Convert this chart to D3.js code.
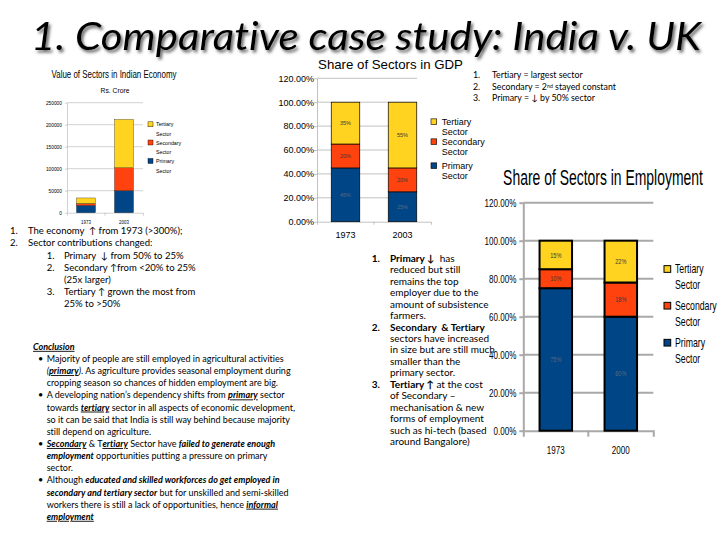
<!DOCTYPE html>
<html>
<head>
<meta charset="utf-8">
<script src="https://cdn.jsdelivr.net/npm/d3@7"></script>
<style>
  body { margin: 0; background: #fff; }
  svg { display: block; }
  text { font-family: "Liberation Sans", Arial, sans-serif; white-space: pre; font-variant-ligatures: none; }
  text.note, text.headline { font-family: Lato, "Open Sans", sans-serif; }
</style>
</head>
<body>
<svg id="slide" width="728" height="546"></svg>
<script>
const sectors = ['Primary', 'Secondary', 'Tertiary'];
const sector_colors = ['#004586', '#ff420e', '#ffd320'];

// value of sectors, Rs. crore
const value_years = ['1973', '2003'];
const value_primary = [16500, 50000];
const value_secondary = [4500, 52000];
const value_tertiary = [12500, 110000];
const value_ticks = [0, 50000, 100000, 150000, 200000, 250000];

// share of GDP, %
const gdp_years = ['1973', '2003'];
const gdp_primary = [45, 25];
const gdp_secondary = [20, 20];
const gdp_tertiary = [35, 55];

// share of employment, %
const emp_years = ['1973', '2000'];
const emp_primary = [75, 60];
const emp_secondary = [10, 18];
const emp_tertiary = [15, 22];

const pct_ticks = [0, 20, 40, 60, 80, 100, 120];

const intro_notes = [
  [0, '1.', 'The economy  ↑ from 1973 (>300%);'],
  [0, '2.', 'Sector contributions changed:'],
  [1, '1.', 'Primary  ↓ from 50% to 25%'],
  [1, '2.', 'Secondary ↑from <20% to 25%'],
  [1, '', '(25x larger)'],
  [1, '3.', 'Tertiary ↑ grown the most from'],
  [1, '', '25% to >50%']
];

const gdp_notes = [
  [0, '1.', 'Tertiary = largest sector'],
  [0, '2.', 'Secondary = 2', ['nd', 's'], ' stayed constant'],
  [0, '3.', 'Primary = ↓ by 50% sector']
];

const emp_notes = [
  [0, '1.', ['Primary ↓', 'b'], '  has'],
  [0, '', 'reduced but still'],
  [0, '', 'remains the top'],
  [0, '', 'employer due to the'],
  [0, '', 'amount of subsistence'],
  [0, '', 'farmers.'],
  [0, '2.', ['Secondary  & Tertiary', 'b']],
  [0, '', 'sectors have increased'],
  [0, '', 'in size but are still much'],
  [0, '', 'smaller than the'],
  [0, '', 'primary sector.'],
  [0, '3.', ['Tertiary ↑', 'b'], ' at the cost'],
  [0, '', 'of Secondary –'],
  [0, '', 'mechanisation & new'],
  [0, '', 'forms of employment'],
  [0, '', 'such as hi-tech (based'],
  [0, '', 'around Bangalore)']
];

const conclusion_notes = [
  [0, '', ['Conclusion', 'biu']],
  [1, '•', 'Majority of people are still employed in agricultural activities'],
  [1, '', ['(', 'i'], ['primary', 'biu'], [')', 'i'], '. As agriculture provides seasonal employment during'],
  [1, '', 'cropping season so chances of hidden employment are big.'],
  [1, '•', 'A developing nation’s dependency shifts from ', ['primary', 'biu'], ' sector'],
  [1, '', 'towards ', ['tertiary', 'biu'], ' sector in all aspects of economic development,'],
  [1, '', 'so it can be said that India is still way behind because majority'],
  [1, '', 'still depend on agriculture.'],
  [1, '•', ['Secondary', 'biu'], ' & T', ['ertiary', 'biu'], ' Sector have ', ['failed to generate enough', 'bi']],
  [1, '', ['employment', 'bi'], ' opportunities putting a pressure on primary'],
  [1, '', 'sector.'],
  [1, '•', 'Although ', ['educated and skilled workforces do get employed in', 'bi']],
  [1, '', ['secondary and tertiary sector', 'bi'], ' but for unskilled and semi-skilled'],
  [1, '', 'workers there is still a lack of opportunities, hence ', ['informal', 'biu']],
  [1, '', ['employment', 'biu']]
];

const svg = d3.select('#slide');

const shadow = svg.append('defs').append('filter').attr('id', 'shadow')
  .attr('x', '-5%').attr('y', '-30%').attr('width', '110%').attr('height', '160%');
shadow.append('feDropShadow')
  .attr('dx', 2).attr('dy', 2.5).attr('stdDeviation', 1.4)
  .attr('flood-color', '#555').attr('flood-opacity', 0.9);

svg.append('text').attr('class', 'headline')
  .attr('x', 31).attr('y', 50)
  .attr('font-size', 38).attr('font-style', 'italic')
  .attr('textLength', 670).attr('lengthAdjust', 'spacingAndGlyphs')
  .attr('filter', 'url(#shadow)')
  .text('1. Comparative case study: India v. UK');

// narrow a text horizontally around its own x anchor
function squeeze(sel, k) {
  if (!k || k === 1) return;
  sel.each(function () {
    const ax = +(this.getAttribute('x') || 0);
    d3.select(this).attr('transform', `matrix(${k},0,0,1,${ax * (1 - k)},0)`);
  });
}

// squeeze a text to a given width
function fitWidth(sel, w) {
  sel.each(function () {
    squeeze(d3.select(this), w / this.getComputedTextLength());
  });
}

function drawChart(c) {
  const g = svg.append('g');
  const rows = c.years.map((year, i) => ({
    year: year, Primary: c.primary[i], Secondary: c.secondary[i], Tertiary: c.tertiary[i]
  }));
  const layers = d3.stack().keys(sectors)(rows);

  const x = d3.scaleBand().domain(c.years).range([c.x0, c.x1])
    .paddingInner(0.5).paddingOuter(0.25);
  const y = d3.scaleLinear().domain([0, c.max]).range([c.yb, c.yt]);

  // gridlines
  g.append('g').selectAll('line')
    .data(c.ticks.filter(d => d > 0))
    .join('line')
    .attr('x1', c.x0).attr('x2', c.gridEnd || c.x1)
    .attr('y1', d => y(d)).attr('y2', d => y(d))
    .attr('stroke', c.grid).attr('stroke-width', c.gw);

  const ya = g.append('g').attr('transform', `translate(${c.x0},0)`)
    .call(d3.axisLeft(y).tickValues(c.ticks).tickFormat(c.fmt)
      .tickSize(c.tick).tickSizeOuter(0).tickPadding(c.yPad));
  ya.select('.domain').attr('stroke', c.grid).attr('stroke-width', c.gw);
  ya.selectAll('.tick line').attr('stroke', c.grid).attr('stroke-width', c.gw);
  ya.selectAll('.tick text').attr('font-size', c.yFont).attr('fill', '#000').call(squeeze, c.squeeze);

  const xa = g.append('g').attr('transform', `translate(0,${c.yb})`)
    .call(d3.axisBottom(x).tickSize(0).tickSizeOuter(c.outer).tickPadding(c.xPad));
  xa.select('.domain').attr('stroke', c.grid).attr('stroke-width', c.gw);
  xa.selectAll('.tick text').attr('font-size', c.xFont).attr('fill', '#000').call(squeeze, c.squeeze);

  // ticks between the categories
  g.append('g').selectAll('line')
    .data(c.years.slice(1))
    .join('line')
    .attr('x1', d => x(d) - x.step() * 0.25).attr('x2', d => x(d) - x.step() * 0.25)
    .attr('y1', c.yb).attr('y2', c.yb + c.outer)
    .attr('stroke', c.grid).attr('stroke-width', c.gw);

  g.append('g').selectAll('g')
    .data(layers)
    .join('g')
    .attr('fill', (d, i) => sector_colors[i])
    .selectAll('rect')
    .data(d => d)
    .join('rect')
    .attr('x', d => x(d.data.year))
    .attr('width', x.bandwidth())
    .attr('y', d => y(d[1]))
    .attr('height', d => y(d[0]) - y(d[1]))
    .attr('stroke', c.outline ? '#000' : 'none')
    .attr('stroke-width', c.outline);

  if (c.segFont) {
    g.append('g').selectAll('text')
      .data(layers.flat())
      .join('text')
      .attr('x', d => x(d.data.year) + x.bandwidth() / 2)
      .attr('y', d => (y(d[0]) + y(d[1])) / 2)
      .attr('dy', '0.35em')
      .attr('text-anchor', 'middle')
      .attr('font-size', c.segFont)
      .attr('fill', (d, i) => i < c.years.length ? '#5a6a80' : '#3a3a3a')
      .text(d => (d[1] - d[0]) + '%')
      .call(squeeze, c.squeeze);
  }

  // legend, top item = tertiary
  const L = c.legend;
  const lg = g.append('g');
  sectors.slice().reverse().forEach((name, i) => {
    const cy = L.y[i];
    lg.append('rect')
      .attr('x', L.x).attr('y', cy - L.size / 2)
      .attr('width', L.size).attr('height', L.size)
      .attr('fill', sector_colors[sectors.indexOf(name)])
      .attr('stroke', '#000').attr('stroke-width', L.border);
    [name, 'Sector'].forEach((t, j) => {
      lg.append('text')
        .attr('x', L.textX).attr('y', cy + j * L.gap).attr('dy', '0.35em')
        .attr('font-size', L.font)
        .text(t)
        .call(squeeze, c.squeeze);
    });
  });

  c.titles.forEach(t => {
    g.append('text')
      .attr('x', t.x).attr('y', t.y)
      .attr('text-anchor', 'middle')
      .attr('font-size', t.font)
      .text(t.text)
      .call(fitWidth, t.width);
  });
}

drawChart({
  years: value_years, primary: value_primary, secondary: value_secondary, tertiary: value_tertiary,
  max: 250000, ticks: value_ticks, fmt: d3.format('d'),
  x0: 67, x1: 143, yb: 212.7, yt: 102.7,
  grid: '#b3b3b3', gw: 0.6, tick: 2, outer: 3,
  yFont: 5.5, yPad: 3, xFont: 5, xPad: 8, squeeze: 0.88, outline: 0.3,
  legend: { x: 148, size: 5, y: [124.3, 142.5, 161], textX: 156, font: 6, gap: 9.5, border: 0.4 },
  titles: [
    { text: 'Value of Sectors in Indian Economy', x: 114, y: 78, font: 11, width: 125 },
    { text: 'Rs. Crore', x: 115, y: 93, font: 8, width: 29 }
  ]
});

drawChart({
  years: gdp_years, primary: gdp_primary, secondary: gdp_secondary, tertiary: gdp_tertiary,
  max: 120, ticks: pct_ticks, fmt: d => d.toFixed(2) + '%',
  x0: 317, x1: 431, yb: 221.7, yt: 78.3, gridEnd: 417,
  grid: '#b3b3b3', gw: 0.8, tick: 3, outer: 3,
  yFont: 9, yPad: 0, xFont: 9, xPad: 10.1, squeeze: 1, outline: 0.7, segFont: 5.5,
  legend: { x: 431, size: 5.7, y: [121.7, 141.7, 165.7], textX: 441.7, font: 9, gap: 10, border: 0.6 },
  titles: [{ text: 'Share of Sectors in GDP', x: 390.5, y: 68.8, font: 13.5, width: 145 }]
});

drawChart({
  years: emp_years, primary: emp_primary, secondary: emp_secondary, tertiary: emp_tertiary,
  max: 120, ticks: pct_ticks, fmt: d => d.toFixed(2) + '%',
  x0: 523.3, x1: 653.3, yb: 430.7, yt: 202.7,
  grid: '#a9a9a9', gw: 2, tick: 4, outer: 6,
  yFont: 11.5, yPad: 3, xFont: 11.5, xPad: 15.2, squeeze: 0.7, outline: 2, segFont: 8,
  legend: { x: 664, size: 6.7, y: [269, 305.7, 342.7], textX: 675, font: 12.5, gap: 16, border: 1 },
  titles: [{ text: 'Share of Sectors in Employment', x: 603, y: 185, font: 23, width: 200 }]
});

// text blocks
function drawNotes(lines, o) {
  lines.forEach(([level, marker, ...parts], i) => {
    const y = o.y0 + i * o.gap;
    const [mx, tx] = o.levels[level];
    if (marker) {
      svg.append('text').attr('class', 'note')
        .attr('x', mx).attr('y', y).attr('dy', '0.35em')
        .attr('font-size', o.size)
        .attr('font-weight', o.boldMarker ? 'bold' : null)
        .text(marker);
    }
    const t = svg.append('text').attr('class', 'note')
      .attr('x', tx).attr('y', y).attr('dy', '0.35em')
      .attr('font-size', o.size);
    parts.forEach(p => {
      const [s, f] = typeof p === 'string' ? [p, ''] : p;
      const span = t.append('tspan').text(s);
      if (f.includes('b')) span.attr('font-weight', 'bold');
      if (f.includes('i')) span.attr('font-style', 'italic');
      if (f.includes('u')) span.attr('text-decoration', 'underline');
      if (f.includes('s')) span.attr('font-size', o.size * 0.6).attr('baseline-shift', '40%');
    });
  });
}

drawNotes(intro_notes, { y0: 231, gap: 12.1, size: 9.5, levels: [[10, 28], [46.7, 64]] });
drawNotes(gdp_notes, { y0: 75, gap: 11.65, size: 8.8, levels: [[473, 492]] });
drawNotes(emp_notes, { y0: 258.3, gap: 11.45, size: 10, boldMarker: true, levels: [[371.7, 390]] });
drawNotes(conclusion_notes, { y0: 346.7, gap: 12.14, size: 9, levels: [[33, 33], [38, 46.7]] });
</script>
</body>
</html>
